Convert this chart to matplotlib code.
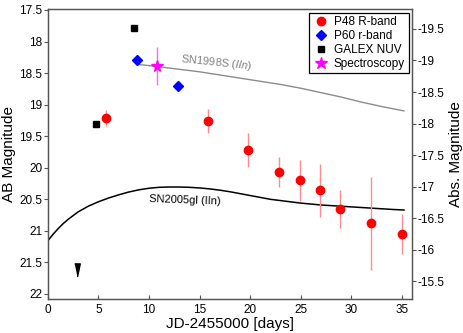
import matplotlib
matplotlib.use("Agg")
import matplotlib.pyplot as plt
from matplotlib.lines import Line2D
from matplotlib.ticker import FuncFormatter

plt.rcParams["font.family"] = ["Liberation Sans", "DejaVu Sans"]
plt.rcParams["axes.unicode_minus"] = False
plt.rcParams["mathtext.fontset"] = "custom"
plt.rcParams["mathtext.it"] = "Liberation Sans:italic"
plt.rcParams["mathtext.rm"] = "Liberation Sans"

# P48 R-band
p48_t = [5.8, 15.8, 19.8, 22.9, 24.9, 26.9, 28.9, 31.9, 35.0]
p48_m = [19.21, 19.26, 19.72, 20.07, 20.20, 20.36, 20.65, 20.88, 21.05]
p48_e = [0.13, 0.19, 0.27, 0.24, 0.32, 0.42, 0.30, 0.74, 0.31]

# P60 r-band
p60_t = [8.8, 12.9]
p60_m = [18.30, 18.70]

# GALEX NUV (detections + upper limit)
galex_t = [4.8, 8.5]
galex_m = [19.31, 17.79]
galex_lim_t = [2.9]
galex_lim_m = [21.62]

# spectroscopy epoch
spec_t = [10.8]
spec_m = [18.39]
spec_e = [0.30]

# template light curves
sn98s_t = [8.8, 11, 13, 15, 17, 19, 21, 23, 25, 27, 29, 31, 33, 35.2]
sn98s_m = [18.36, 18.40, 18.44, 18.48, 18.53, 18.58, 18.63, 18.68, 18.74,
           18.81, 18.88, 18.96, 19.03, 19.10]
sn05gl_t = [0, 0.5, 1, 1.5, 2, 3, 4, 5, 6, 7, 8, 9, 10, 11, 12, 13, 14, 15,
            16, 17, 18, 19, 20, 21, 22, 23, 24, 25, 26, 27, 28, 29, 30, 31,
            32, 33, 34, 35.2]
sn05gl_m = [21.16, 21.06, 20.97, 20.89, 20.82, 20.70, 20.61, 20.54, 20.48,
            20.43, 20.385, 20.35, 20.325, 20.31, 20.305, 20.305, 20.31, 20.32,
            20.335, 20.355, 20.38, 20.41, 20.44, 20.47, 20.50, 20.52, 20.54,
            20.56, 20.575, 20.59, 20.60, 20.61, 20.62, 20.63, 20.64, 20.65,
            20.66, 20.67]

dist_mod = 37.3

fig = plt.figure(figsize=(4.63, 3.33), dpi=100)
ax = fig.add_axes([0.103, 0.102, 0.787, 0.870])

ax.plot(sn98s_t, sn98s_m, color="#8c8c8c", lw=1.0)
ax.plot(sn05gl_t, sn05gl_m, color="black", lw=1.1)

ax.errorbar(p48_t, p48_m, yerr=p48_e, fmt="o", color="red", ecolor="#ff8c8c",
            ms=6, elinewidth=1, capsize=0)
ax.plot(p60_t, p60_m, "D", color="blue", ms=5)
ax.plot(galex_t, galex_m, "s", color="black", ms=4.5)
tri = [(-0.42, 1.0), (0.42, 1.0), (0.0, -1.0)]
ax.plot(galex_lim_t, galex_lim_m, marker=tri, ls="none", color="black", ms=9.5)
ax.errorbar(spec_t, spec_m, yerr=spec_e, fmt="*", color="magenta", ecolor="#ff66ff",
            ms=8.5, elinewidth=1, capsize=0)

ax.text(13.1, 18.33, "SN1998S $\\mathit{(IIn)}$", color="#808080", fontsize=8,
        rotation=-6, ha="left", va="center")
ax.text(13.6, 20.51, "SN2005gl (IIn)", color="black", fontsize=8,
        rotation=-2, ha="center", va="center")

ax.set_xlim(0, 36.0)
ax.set_ylim(22.08, 17.49)
ax.set_xticks(range(0, 36, 5))
ax.set_yticks([17.5 + 0.5 * i for i in range(10)])
fmt = FuncFormatter(lambda v, p: "%g" % v)
ax.yaxis.set_major_formatter(fmt)
ax.set_xlabel("JD-2455000 [days]", fontsize=11, labelpad=1)
ax.set_ylabel("AB Magnitude", fontsize=11, labelpad=2)
ax.tick_params(axis="x", direction="in", length=3, labelsize=8.5, color="#555555")
ax.tick_params(axis="y", direction="out", length=3, labelsize=8.5, color="#555555", pad=1)

ax2 = ax.twinx()
ax2.set_ylim(22.08 - dist_mod, 17.49 - dist_mod)
ax2.set_yticks([-19.5 + 0.5 * i for i in range(9)])
ax2.yaxis.set_major_formatter(fmt)
ax2.set_ylabel("Abs. Magnitude", fontsize=11, labelpad=3)
ax2.tick_params(axis="y", direction="out", length=3, labelsize=8.5, color="#555555", pad=1)

for a in (ax, ax2):
    for s in a.spines.values():
        s.set_color("#555555")
        s.set_linewidth(0.9)

handles = [
    Line2D([], [], marker="o", color="red", ls="none", ms=6),
    Line2D([], [], marker="D", color="blue", ls="none", ms=5),
    Line2D([], [], marker="s", color="black", ls="none", ms=4.5),
    Line2D([], [], marker="*", color="magenta", ls="none", ms=9),
]
leg = ax.legend(handles, ["P48 R-band", "P60 r-band", "GALEX NUV", "Spectroscopy"],
                loc="upper right", fontsize=8.5, fancybox=False, edgecolor="black",
                framealpha=1, borderaxespad=0.3, handletextpad=0.3,
                labelspacing=0.15, borderpad=0.3, handlelength=1.5)
leg.get_frame().set_linewidth(0.9)

fig.savefig("out.png", dpi=100)
